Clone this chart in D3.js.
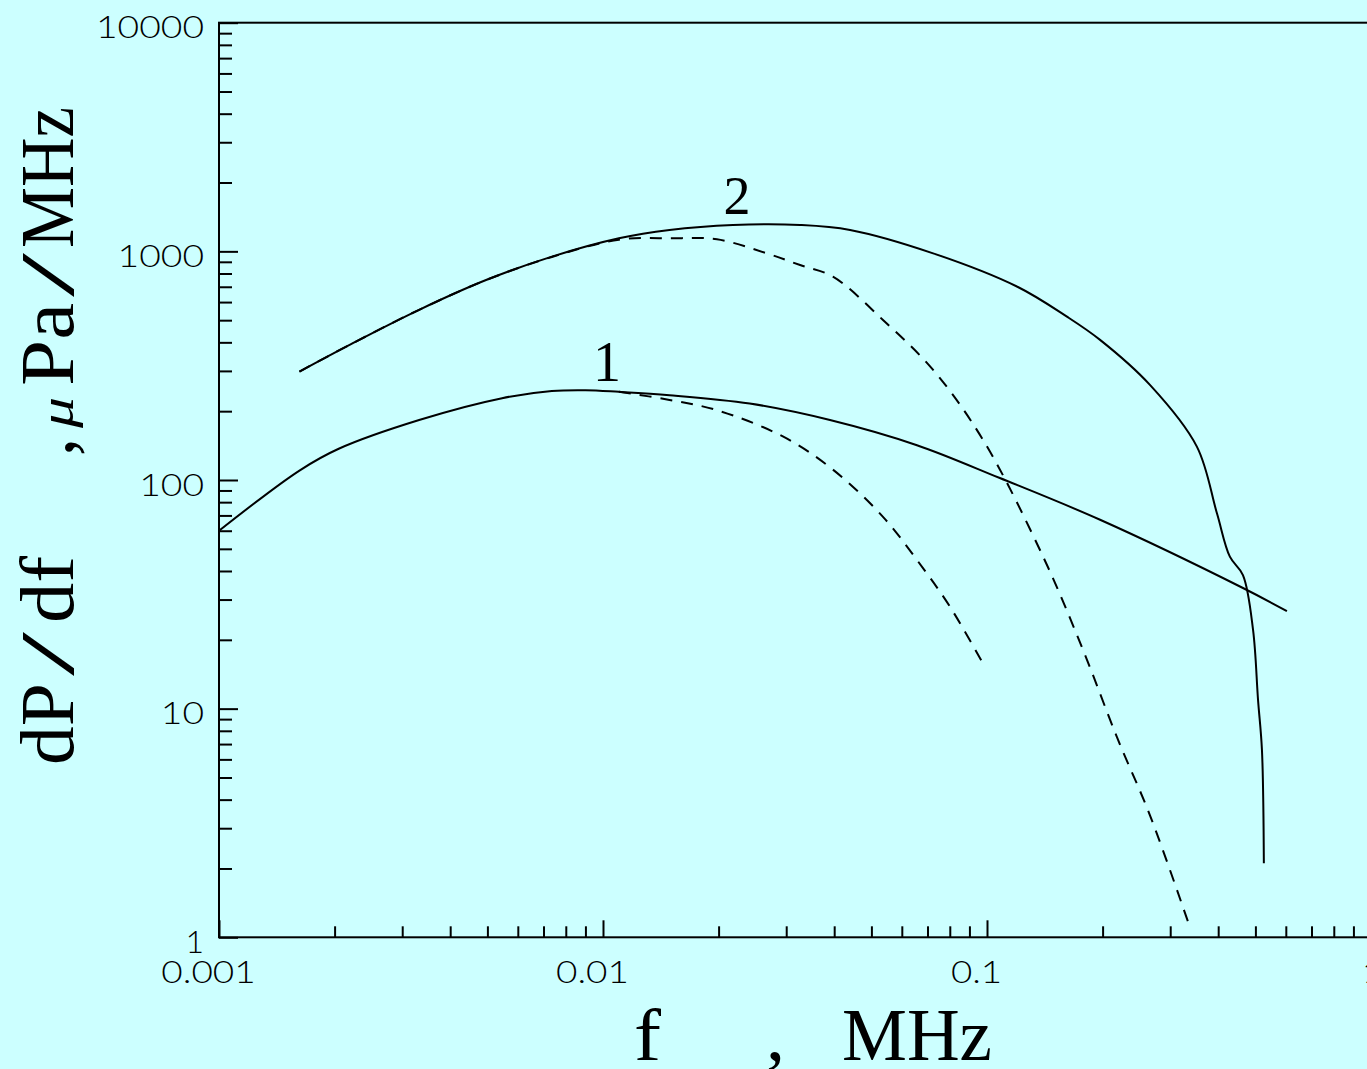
<!DOCTYPE html>
<html><head><meta charset="utf-8">
<script src="https://cdn.jsdelivr.net/npm/d3@7"></script>
<style>html,body{margin:0;padding:0;background:#ccffff;overflow:hidden}</style>
</head><body>
<svg id="c" width="1367" height="1069"></svg>
<script>
// ---- data ----
const curve1SolidFreq = [0.001, 0.00162, 0.00205, 0.00332, 0.00546, 0.00736, 0.0090, 0.0110, 0.0149, 0.0241, 0.039, 0.0657, 0.108, 0.197, 0.464, 0.604];
const curve1SolidVal  = [60, 110, 137, 183, 228, 245, 247, 243, 235, 216, 183, 142, 102, 67, 33.7, 26.7];
const curve1DashFreq  = [0.0110, 0.0149, 0.0198, 0.0294, 0.0397, 0.0536, 0.0657, 0.0801, 0.0988];
const curve1DashVal   = [243, 224, 202, 155, 111, 69, 44.7, 27.9, 15.2];
const curve2SolidFreq = [0.00162, 0.00222, 0.00332, 0.00496, 0.00736, 0.0110, 0.0149, 0.0218, 0.0326, 0.044, 0.0724, 0.120, 0.1615, 0.197, 0.266, 0.352, 0.397, 0.429, 0.464, 0.493, 0.508, 0.520, 0.526];
const curve2SolidVal  = [298, 395, 555, 749, 948, 1140, 1240, 1304, 1304, 1240, 980, 700, 518, 410, 260, 140, 71.5, 46.2, 38.4, 22.1, 10.9, 6.6, 2.11];
const curve2DashFreq  = [0.00162, 0.00222, 0.00332, 0.00496, 0.00736, 0.0110, 0.0149, 0.0198, 0.0267, 0.0326, 0.0397, 0.0536, 0.0724, 0.0976, 0.140, 0.178, 0.218, 0.266, 0.338];
const curve2DashVal   = [298, 395, 555, 749, 945, 1125, 1140, 1129, 980, 871, 775, 501, 303, 150, 46.2, 18.0, 7.5, 3.4, 1.1];

const xMajorTicks = [0.001, 0.01, 0.1, 1];
const xTickLabels = ["0.001", "0.01", "0.1", "1"];
const yMajorTicks = [1, 10, 100, 1000, 10000];
const yTickLabels = ["1", "10", "100", "1000", "10000"];
const curveLabels = ["1", "2"];

// ---- drawing ----
const svg = d3.select("#c");
svg.append("rect").attr("width", 1367).attr("height", 1069).attr("fill", "#ccffff");

const L = 219, R = 1371, T = 22.7, B = 937.3;
const x = d3.scaleLog().domain([0.001, 1]).range([L, R]);
const y = d3.scaleLog().domain([1, 10000]).range([B, T]);

const minors = (decs) => decs.flatMap(d => [2,3,4,5,6,7,8,9].map(k => k * d));
const xMinor = minors([0.001, 0.01, 0.1]);
const yMinor = minors([1, 10, 100, 1000]);

const tickFont = "Lato, 'DejaVu Sans', sans-serif";
// approximate width of a label in the wide geometric face of the reference
const labelWidth = s => { let w = 0; for (const c of s) w += (c === ".") ? 10 : 21.6; return w; };

// y axis
svg.append("g").attr("transform", `translate(${L},0)`)
  .call(d3.axisLeft(y).tickValues(yMinor).tickSizeInner(-13).tickSizeOuter(0).tickFormat(""))
  .call(g => g.select(".domain").remove());
const gy = svg.append("g").attr("transform", `translate(${L},0)`)
  .call(d3.axisLeft(y).tickValues(yMajorTicks).tickSizeInner(-19).tickSizeOuter(0).tickPadding(15)
    .tickFormat((d, i) => yTickLabels[i]))
  .call(g => g.select(".domain").remove());
gy.selectAll("text").attr("dy", 0).attr("y", 15)
  .style("font-family", tickFont).style("font-weight", 300).style("font-size", "32px").attr("fill", "#000")
  .each(function() {
    const s = d3.select(this).text();
    if (s.length > 1) d3.select(this).attr("textLength", labelWidth(s)).attr("lengthAdjust", "spacingAndGlyphs");
  });

// x axis
svg.append("g").attr("transform", `translate(0,${B})`)
  .call(d3.axisBottom(x).tickValues(xMinor).tickSizeInner(-11).tickSizeOuter(0).tickFormat(""))
  .call(g => g.select(".domain").remove());
const gx = svg.append("g").attr("transform", `translate(0,${B})`)
  .call(d3.axisBottom(x).tickValues(xMajorTicks).tickSizeInner(-17).tickSizeOuter(0).tickPadding(0)
    .tickFormat((d, i) => xTickLabels[i]))
  .call(g => g.select(".domain").remove());
gx.selectAll("text").attr("dy", 0).attr("y", 46).attr("x", -11)
  .style("font-family", tickFont).style("font-weight", 300).style("font-size", "32px").attr("fill", "#000")
  .each(function() {
    const s = d3.select(this).text();
    if (s.length > 1) d3.select(this).attr("textLength", labelWidth(s) - 2).attr("lengthAdjust", "spacingAndGlyphs");
    else d3.select(this).attr("x", 0);
  });

svg.selectAll(".tick line").attr("stroke", "#000").attr("stroke-width", 2);

// frame
svg.append("rect").attr("x", L).attr("y", T).attr("width", R - L).attr("height", B - T)
  .attr("fill", "none").attr("stroke", "#000").attr("stroke-width", 2);

// curves
const line = d3.line().x(d => x(d[0])).y(d => y(d[1])).curve(d3.curveCatmullRom.alpha(0.5));
const zip = (a, b) => a.map((v, i) => [v, b[i]]);
const series = [
  {f: curve1SolidFreq, v: curve1SolidVal, dash: null},
  {f: curve1DashFreq,  v: curve1DashVal,  dash: "12,9"},
  {f: curve2SolidFreq, v: curve2SolidVal, dash: null},
  {f: curve2DashFreq,  v: curve2DashVal,  dash: "12,9"}
];
series.forEach(s => {
  svg.append("path").attr("d", line(zip(s.f, s.v)))
    .attr("fill", "none").attr("stroke", "#000").attr("stroke-width", 2)
    .attr("stroke-dasharray", s.dash);
});

// curve labels
const serif = "'Liberation Serif', 'DejaVu Serif', serif";
svg.append("text").attr("x", 607).attr("y", 381).attr("text-anchor", "middle")
  .style("font-family", serif).style("font-size", "56px").text(curveLabels[0]);
svg.append("text").attr("x", 737).attr("y", 214).attr("text-anchor", "middle")
  .style("font-family", serif).style("font-size", "54px").text(curveLabels[1]);

// y axis title (rotated pieces)
const yTitle = [
  {t: "dP", s: 765, len: 82, size: 77},
  {t: "/", s: 676, len: 44, size: 77},
  {t: "df", s: 623, len: 67, size: 77},
  {t: ",", s: 456, len: 18, size: 77},
  {t: "\u03bc", s: 428, len: 31, size: 48, italic: true},
  {t: "Pa", s: 386, len: 83, size: 77},
  {t: "/", s: 297, len: 44, size: 77},
  {t: "MHz", s: 248, len: 141, size: 77}
];
yTitle.forEach(p => {
  svg.append("text").attr("transform", `translate(73,${p.s}) rotate(-90)`)
    .attr("textLength", p.len).attr("lengthAdjust", "spacingAndGlyphs")
    .style("font-family", serif).style("font-size", p.size + "px")
    .style("font-style", p.italic ? "italic" : "normal").text(p.t);
});

// x axis title
const xTitle = [
  {t: "f", s: 634, len: 27},
  {t: ",", s: 766, len: 19},
  {t: "MHz", s: 842, len: 150}
];
xTitle.forEach(p => {
  svg.append("text").attr("x", p.s).attr("y", 1060)
    .attr("textLength", p.len).attr("lengthAdjust", "spacingAndGlyphs")
    .style("font-family", serif).style("font-size", "73px").text(p.t);
});
</script>
</body></html>
